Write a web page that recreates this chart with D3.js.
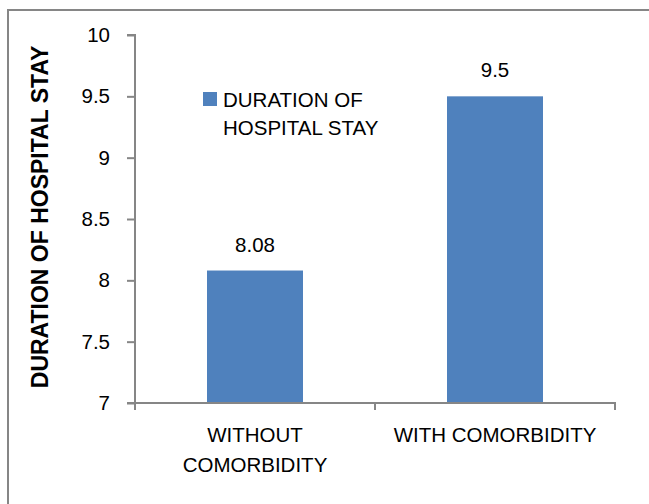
<!DOCTYPE html>
<html>
<head>
<meta charset="utf-8">
<script src="https://cdn.jsdelivr.net/npm/d3@7"></script>
<style>
  html, body { margin: 0; padding: 0; background: #fff; }
  svg { display: block; }
  text { font-family: "Liberation Sans", Arial, sans-serif; fill: #000; }
</style>
</head>
<body>
<script>
// Chart data
const categories = ["WITHOUT COMORBIDITY", "WITH COMORBIDITY"];
const stayValues = [8.08, 9.5];
const seriesName = "DURATION OF HOSPITAL STAY";
const yTicks = [7, 7.5, 8, 8.5, 9, 9.5, 10];
const yTitle = "DURATION OF HOSPITAL STAY";

const W = 649, H = 504;
const barColor = "#4F81BD";
const axisColor = "#868686";
const fs = 20.5;

const svg = d3.select("body").append("svg")
  .attr("width", W).attr("height", H);

// chart area frame (runs past the right and bottom edges)
svg.append("rect")
  .attr("x", 8).attr("y", 10)
  .attr("width", 700).attr("height", 600)
  .attr("fill", "none")
  .attr("stroke", axisColor)
  .attr("stroke-width", 2);

const plot = { left: 135, right: 615, top: 35, bottom: 403 };

const y = d3.scaleLinear().domain([7, 10]).range([plot.bottom, plot.top]);
const x = d3.scaleBand().domain(categories)
  .range([plot.left, plot.right])
  .paddingInner(0.6).paddingOuter(0.3);

// wrap a string into lines no wider than maxW
function wrapLines(str, maxW, fontSize, weight) {
  const probe = svg.append("text").attr("font-size", fontSize)
    .attr("font-weight", weight || "normal");
  const words = str.split(" ");
  const lines = [];
  let cur = "";
  words.forEach(w => {
    const test = cur ? cur + " " + w : w;
    probe.text(test);
    if (probe.node().getComputedTextLength() > maxW && cur) {
      lines.push(cur);
      cur = w;
    } else cur = test;
  });
  if (cur) lines.push(cur);
  probe.remove();
  return lines;
}

// bars
svg.append("g").selectAll("rect")
  .data(categories)
  .join("rect")
  .attr("x", d => x(d))
  .attr("y", (d, i) => y(stayValues[i]))
  .attr("width", x.bandwidth())
  .attr("height", (d, i) => y(7) - y(stayValues[i]))
  .attr("fill", barColor);

// value labels
svg.append("g").selectAll("text")
  .data(categories)
  .join("text")
  .attr("x", d => x(d) + x.bandwidth() / 2)
  .attr("y", (d, i) => y(stayValues[i]) - 19)
  .attr("text-anchor", "middle")
  .attr("font-size", fs)
  .text((d, i) => stayValues[i]);

// y axis
const yAxis = svg.append("g")
  .attr("transform", `translate(${plot.left},0)`)
  .call(d3.axisLeft(y).tickValues(yTicks).tickSize(8).tickPadding(17)
    .tickFormat(d3.format("")));
yAxis.select(".domain").attr("stroke", axisColor).attr("stroke-width", 2)
  .attr("d", `M-8,${y(10)}H0V${y(7)}`);
yAxis.selectAll(".tick line").attr("stroke", axisColor).attr("stroke-width", 2);
yAxis.selectAll(".tick text").attr("font-size", fs).attr("fill", "#000")
  .attr("font-family", "Liberation Sans, Arial, sans-serif");

// x axis line with boundary ticks
const xAxisG = svg.append("g");
xAxisG.append("line")
  .attr("x1", plot.left - 8).attr("x2", plot.right + 1)
  .attr("y1", plot.bottom).attr("y2", plot.bottom)
  .attr("stroke", axisColor).attr("stroke-width", 2);
const bounds = [x.range()[0], x.range()[0] + x.step(), x.range()[1]];
xAxisG.selectAll("line.b").data(bounds).join("line")
  .attr("class", "b")
  .attr("x1", d => d).attr("x2", d => d)
  .attr("y1", plot.bottom).attr("y2", plot.bottom + 7)
  .attr("stroke", axisColor).attr("stroke-width", 2);

// category labels
categories.forEach(c => {
  const lines = wrapLines(c, 230, fs);
  const t = svg.append("text")
    .attr("text-anchor", "middle")
    .attr("font-size", fs);
  lines.forEach((ln, i) => {
    t.append("tspan")
      .attr("x", x(c) + x.bandwidth() / 2)
      .attr("y", 442 + i * 30)
      .text(ln);
  });
});

// legend
const legend = svg.append("g");
legend.append("rect")
  .attr("x", 203).attr("y", 92)
  .attr("width", 14).attr("height", 14)
  .attr("fill", barColor);
const legLines = wrapLines(seriesName, 165, fs);
const lt = legend.append("text").attr("font-size", fs);
legLines.forEach((ln, i) => {
  lt.append("tspan").attr("x", 223).attr("y", 106.5 + i * 28.5).text(ln);
});

// y axis title
svg.append("text")
  .attr("transform", `translate(48,${(42 + 392) / 2}) rotate(-90)`)
  .attr("text-anchor", "middle")
  .attr("font-size", 23)
  .attr("font-weight", "bold")
  .text(yTitle);
</script>
</body>
</html>
